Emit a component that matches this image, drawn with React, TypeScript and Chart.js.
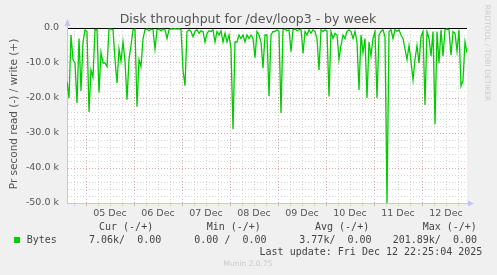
import React, { useEffect, useRef } from 'react';
import { Chart, registerables } from 'chart.js';

Chart.register(...registerables);

const W = 497;
const H = 275;

// Read throughput (k bytes/s), one sample per hour since graph start (~Dec 4 14:30)
const readK: number[] = [
  15.3, 20, 2, 9, 10, 21.5, 3, 18, 4, 0.5,
  1, 24, 12, 14, 0.5, 0.5, 18.5, 7, 10, 10,
  11, 0.3, 0.3, 0.5, 9, 15.8, 6, 9.5, 4, 9.5,
  20.5, 9, 5, 0.5, 0.3, 22.5, 9, 11, 3, 0.5,
  0.3, 0.8, 0.3, 0.5, 6, 0.5, 0.3, 0.8, 0.3, 0.5,
  3, 0.5, 0.2, 0.3, 0.2, 0.3, 0.2, 0.5, 12, 16.5,
  1, 0.5, 1, 2.5, 1, 0.5, 1.5, 0.8, 1, 4,
  1.5, 0.8, 1, 0.5, 4, 1, 2, 0.8, 4, 1.5,
  4, 2, 6, 28.9, 4, 4, 2, 3, 2, 4,
  2, 3, 2, 3, 8.5, 1, 2, 4, 11.5, 2,
  2, 19.5, 2, 1, 1, 0.5, 1, 24.3, 0.5, 0.3,
  0.8, 0.5, 6.8, 0.5, 0.3, 0.8, 0.5, 0.3, 7.3, 1,
  2, 0.5, 1.5, 0.5, 1, 3, 12, 0.5, 1, 0.5,
  0.8, 19.6, 1, 3, 1.5, 2, 9, 5, 2, 3,
  1, 0.5, 1, 3, 1, 4, 17.7, 2, 7, 3,
  20, 4, 8, 3, 1, 20, 2, 1, 0.5, 2.5,
  50, 1, 0.5, 3, 0.5, 1, 0.5, 2, 3, 6,
  9, 5, 9.5, 14.8, 9, 5, 10, 2.5, 1, 22,
  1, 3, 8, 1, 27.4, 1, 10, 0.5, 8, 0.5,
  0.3, 0.5, 7.8, 1, 1.5, 6.6, 0.5, 16.6, 15, 4,
  7.06,
];

const DAY_LABELS = ['05 Dec', '06 Dec', '07 Dec', '08 Dec', '09 Dec', '10 Dec', '11 Dec', '12 Dec'];
const FIRST_MIDNIGHT_HOUR = 9.5;
const SPAN_HOURS = 200;
const Y_MIN = -50000;
const Y_MAX = 0;
const Y_MINOR_STEP = 2000;
const Y_MAJOR_STEP = 10000;

const TITLE = 'Disk throughput for /dev/loop3 - by week';
const Y_TITLE = 'Pr second read (-) / write (+)';
const SIDE_TEXT = 'RRDTOOL / TOBI OETIKER';
const SERIES_NAME = 'Bytes';
const LEGEND_HEADERS = ['Cur (-/+)', 'Min (-/+)', 'Avg (-/+)', 'Max (-/+)'];
const LEGEND_VALUES = ['7.06k/  0.00', '0.00 /  0.00', '3.77k/  0.00', '201.89k/  0.00'];
const LAST_UPDATE = 'Last update: Fri Dec 12 22:25:04 2025';
const VERSION = 'Munin 2.0.75';

const GREEN = '#00cc00';
const GRID_MINOR = '#d6d6d6';
const GRID_MAJOR = '#e6a8a8';
const AXIS = '#c4c4ee';
const TEXT = '#555555';
const SANS = '"DejaVu Sans", sans-serif';
const MONO = '"DejaVu Sans Mono", monospace';

const isDay = (v: number) => Math.abs((((v - FIRST_MIDNIGHT_HOUR) % 24) + 24) % 24) < 0.01;
const isNoon = (v: number) => Math.abs((((v - FIRST_MIDNIGHT_HOUR - 12) % 24) + 24) % 24) < 0.01;

const decorPlugin = {
  id: 'muninDecor',
  beforeDraw(chart: any) {
    const { ctx, chartArea: a } = chart;
    ctx.save();
    ctx.fillStyle = '#f0f0f0';
    ctx.fillRect(0, 0, W, H);
    ctx.fillStyle = '#ffffff';
    ctx.fillRect(a.left, a.top, a.right - a.left, a.bottom - a.top);
    ctx.restore();
  },
  afterDraw(chart: any) {
    const { ctx, chartArea: a } = chart;
    ctx.save();
    // axis arrows
    ctx.strokeStyle = AXIS;
    ctx.fillStyle = AXIS;
    ctx.lineWidth = 1;
    ctx.beginPath();
    ctx.moveTo(a.left + 0.5, a.top);
    ctx.lineTo(a.left + 0.5, a.top - 5);
    ctx.stroke();
    ctx.beginPath();
    ctx.moveTo(a.left - 2.5, a.top - 2);
    ctx.lineTo(a.left + 3.5, a.top - 2);
    ctx.lineTo(a.left + 0.5, a.top - 9);
    ctx.closePath();
    ctx.fill();
    ctx.beginPath();
    ctx.moveTo(a.right, a.bottom + 0.5);
    ctx.lineTo(a.right + 3, a.bottom + 0.5);
    ctx.stroke();
    ctx.beginPath();
    ctx.moveTo(a.right + 1, a.bottom - 2.5);
    ctx.lineTo(a.right + 1, a.bottom + 3.5);
    ctx.lineTo(a.right + 7, a.bottom + 0.5);
    ctx.closePath();
    ctx.fill();

    // title
    ctx.fillStyle = TEXT;
    ctx.textAlign = 'center';
    ctx.textBaseline = 'middle';
    ctx.font = `12.5px ${SANS}`;
    ctx.fillText(TITLE, 248, 19.5);

    // y title
    ctx.save();
    ctx.translate(14.5, 114);
    ctx.rotate(-Math.PI / 2);
    ctx.font = `10.5px ${SANS}`;
    ctx.fillText(Y_TITLE, 0, 0);
    ctx.restore();

    // side text
    ctx.save();
    ctx.translate(487, 53);
    ctx.rotate(Math.PI / 2);
    ctx.fillStyle = '#cccccc';
    ctx.font = `7.5px ${SANS}`;
    ctx.fillText(SIDE_TEXT, 0, 0);
    ctx.restore();

    // legend
    ctx.fillStyle = '#444444';
    ctx.font = `10px ${MONO}`;
    ctx.textAlign = 'left';
    const headX = [99, 206.7, 315, 422.7];
    LEGEND_HEADERS.forEach((t, i) => ctx.fillText(t, headX[i], 227.5));
    ctx.fillStyle = GREEN;
    ctx.fillRect(14, 237, 6, 6);
    ctx.fillStyle = '#444444';
    ctx.fillText(SERIES_NAME, 26.7, 240);
    const valX = [89, 194.3, 299.3, 392.7];
    LEGEND_VALUES.forEach((t, i) => ctx.fillText(t, valX[i], 240));
    ctx.textAlign = 'right';
    ctx.fillText(LAST_UPDATE, 482.3, 252);

    ctx.textAlign = 'center';
    ctx.fillStyle = '#c8c8c8';
    ctx.font = `7.5px ${SANS}`;
    ctx.fillText(VERSION, 248, 264);
    ctx.restore();
  },
};

export default function App() {
  const ref = useRef<HTMLCanvasElement | null>(null);

  useEffect(() => {
    document.body.style.margin = '0';
    const canvas = ref.current;
    if (!canvas) return;
    const points = readK.map((v, i) => ({ x: i, y: -v * 1000 }));
    const chart = new Chart(canvas, {
      type: 'line',
      data: {
        datasets: [
          {
            label: SERIES_NAME,
            data: points,
            borderColor: GREEN,
            borderWidth: 1.3,
            pointRadius: 0,
            tension: 0,
            fill: false,
          },
        ],
      },
      options: {
        animation: false,
        responsive: false,
        devicePixelRatio: 1,
        layout: { padding: { left: 0, top: 28, right: 30, bottom: 0 } },
        plugins: { legend: { display: false }, tooltip: { enabled: false }, title: { display: false } },
        scales: {
          x: {
            type: 'linear',
            min: 0,
            max: SPAN_HOURS,
            afterBuildTicks: (s: any) => {
              const t: any[] = [];
              for (let v = FIRST_MIDNIGHT_HOUR - 6; v <= SPAN_HOURS; v += 6) t.push({ value: v });
              s.ticks = t;
            },
            afterFit: (s: any) => {
              s.height = H - 203;
            },
            grid: {
              color: (c: any) => (c.tick && isDay(c.tick.value) ? GRID_MAJOR : GRID_MINOR),
              tickColor: (c: any) => (c.tick && isDay(c.tick.value) ? GRID_MAJOR : GRID_MINOR),
              lineWidth: 1,
              drawTicks: true,
              tickLength: 3,
              tickBorderDash: [],
            },
            border: { display: true, color: AXIS, dash: [1, 2] },
            ticks: {
              autoSkip: false,
              maxRotation: 0,
              padding: 2,
              color: TEXT,
              font: { family: SANS, size: 9.5 },
              callback: (v: any) => {
                if (!isNoon(v)) return '';
                const d = Math.round((v - FIRST_MIDNIGHT_HOUR - 12) / 24);
                return DAY_LABELS[d] ?? '';
              },
            },
          },
          y: {
            type: 'linear',
            min: Y_MIN,
            max: Y_MAX,
            afterBuildTicks: (s: any) => {
              const t: any[] = [];
              for (let v = Y_MIN; v <= Y_MAX; v += Y_MINOR_STEP) t.push({ value: v });
              s.ticks = t;
            },
            afterFit: (s: any) => {
              s.width = 67;
            },
            grid: {
              color: (c: any) =>
                c.tick && c.tick.value === 0 ? '#000000' : c.tick && c.tick.value % Y_MAJOR_STEP === 0 ? GRID_MAJOR : GRID_MINOR,
              lineWidth: 1,
              drawTicks: false,
            },
            border: {
              display: true,
              color: AXIS,
              dash: (c: any) => (c.tick && c.tick.value === 0 ? [] : [1, 2]),
            },
            ticks: {
              autoSkip: false,
              padding: 8,
              color: TEXT,
              font: { family: SANS, size: 9.5 },
              callback: (v: any) => {
                if (v % Y_MAJOR_STEP !== 0) return '';
                if (v === 0) return '0.0';
                return `${(v / 1000).toFixed(1)} k`;
              },
            },
          },
        },
      },
      plugins: [decorPlugin],
    } as any);
    return () => chart.destroy();
  }, []);

  return (
    <div style={{ width: W, height: H }}>
      <canvas ref={ref} width={W} height={H} style={{ display: 'block', width: W, height: H }} />
    </div>
  );
}
